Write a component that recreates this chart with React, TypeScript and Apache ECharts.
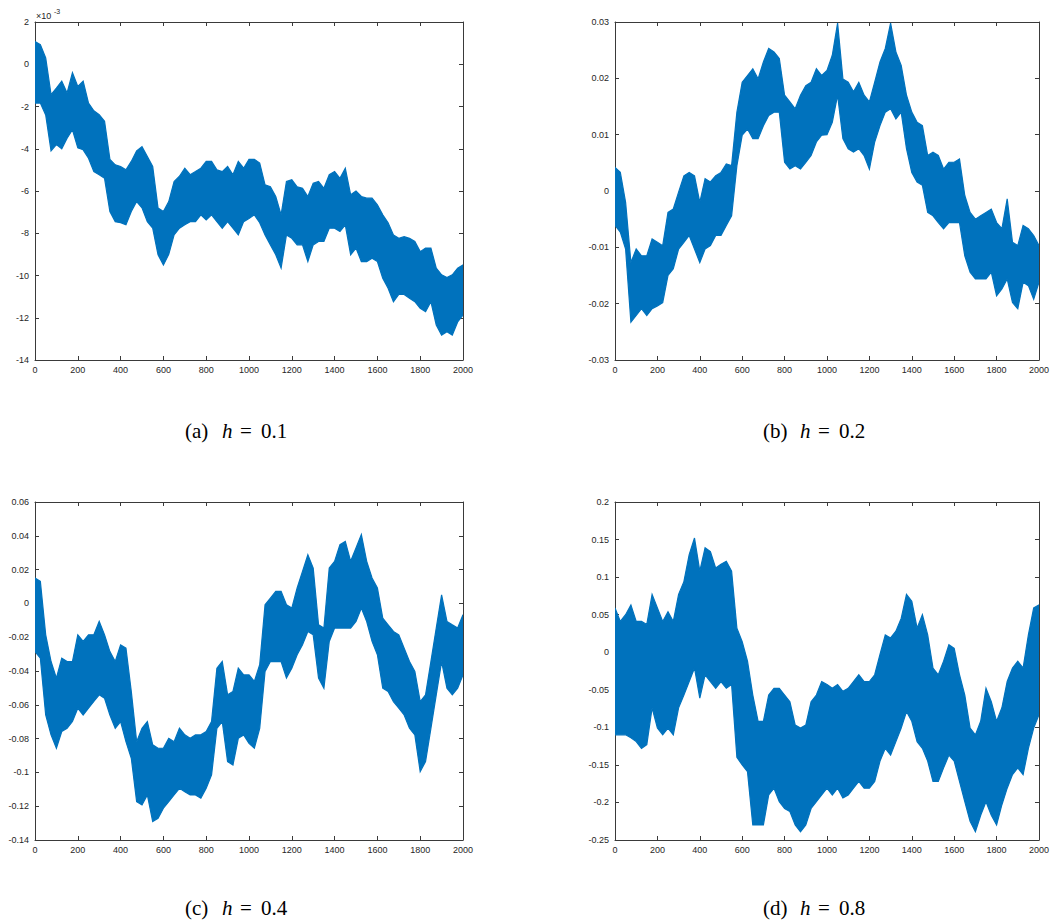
import React, { useEffect, useRef } from "react";
import * as echarts from "echarts";

// Sample positions along the horizontal axis (iteration index)
const sampleX = [
  0, 25, 50, 75, 100, 125, 150, 175, 200, 225,
  250, 275, 300, 325, 350, 375, 400, 425, 450, 475,
  500, 525, 550, 575, 600, 625, 650, 675, 700, 725,
  750, 775, 800, 825, 850, 875, 900, 925, 950, 975,
  1000, 1025, 1050, 1075, 1100, 1125, 1150, 1175, 1200, 1225,
  1250, 1275, 1300, 1325, 1350, 1375, 1400, 1425, 1450, 1475,
  1500, 1525, 1550, 1575, 1600, 1625, 1650, 1675, 1700, 1725,
  1750, 1775, 1800, 1825, 1850, 1875, 1900, 1925, 1950, 1975,
  2000,
];

const xTicks = [0, 200, 400, 600, 800, 1000, 1200, 1400, 1600, 1800, 2000];

// (a) h = 0.1 — values in units of 1e-3 (as on the axis)
const aHi = [
  1.08, 0.93, 0.3, -1.44, -1.13, -0.8, -1.36, -0.4, -1.05, -0.8,
  -1.84, -2.2, -2.39, -2.7, -4.5, -4.76, -4.84, -5.0, -4.6, -4.1,
  -3.9, -4.37, -4.84, -6.81, -6.97, -6.5, -5.55, -5.3, -4.92, -5.23,
  -5.08, -4.92, -4.6, -4.6, -5.0, -5.08, -4.84, -5.23, -4.6, -4.92,
  -4.5, -4.5, -4.68, -5.71, -5.8, -6.26, -7.13, -5.55, -5.47, -5.8,
  -5.87, -6.26, -5.63, -5.55, -5.87, -5.23, -5.08, -5.4, -4.92, -6.18,
  -6.0, -6.26, -6.34, -6.34, -6.66, -7.13, -7.5, -8.08, -8.24, -8.16,
  -8.24, -8.39, -8.87, -8.7, -8.7, -9.65, -9.97, -10.1, -9.97, -9.65,
  -9.5,
];
const aLo = [
  -1.84, -1.84, -2.4, -4.1, -3.8, -4.0, -3.5, -3.1, -3.96, -4.05,
  -4.45, -5.08, -5.23, -5.4, -6.97, -7.45, -7.5, -7.6, -6.97, -6.5,
  -6.8, -7.45, -7.76, -9.02, -9.5, -9.0, -8.08, -7.76, -7.6, -7.45,
  -7.45, -7.13, -7.37, -7.13, -7.45, -7.76, -7.45, -7.76, -8.08, -7.45,
  -7.3, -7.13, -7.5, -8.08, -8.55, -9.02, -9.65, -8.08, -8.24, -8.55,
  -8.55, -9.34, -8.55, -8.39, -8.39, -7.76, -7.76, -7.92, -7.6, -9.02,
  -8.7, -9.34, -9.34, -9.18, -9.34, -10.13, -10.6, -11.24, -10.9, -10.9,
  -11.08, -11.24, -11.55, -11.71, -11.24, -12.34, -12.82, -12.66, -12.82, -12.2,
  -11.87,
];

// (b) h = 0.2
const bHi = [
  0.0042, 0.0033, -0.002, -0.0127, -0.0103, -0.0115, -0.0115, -0.0085, -0.0091, -0.0097,
  -0.0038, -0.0032, -0.0002, 0.0027, 0.0033, 0.0027, -0.002, 0.0022, 0.0016, 0.0027,
  0.0033, 0.0048, 0.0045, 0.014, 0.0193, 0.0205, 0.0217, 0.0199, 0.0229, 0.0253,
  0.0247, 0.0235, 0.017, 0.0158, 0.0146, 0.017, 0.0187, 0.0193, 0.0217, 0.0205,
  0.0214, 0.0241, 0.0298, 0.0199, 0.0193, 0.0176, 0.0193, 0.017, 0.0158, 0.0193,
  0.0229, 0.0253, 0.0298, 0.0247, 0.0223, 0.017, 0.014, 0.0122, 0.0116, 0.0063,
  0.0069, 0.0063, 0.0039, 0.0051, 0.0051, 0.0057, -0.0008, -0.0038, -0.005, -0.0044,
  -0.0038, -0.0032, -0.0056, -0.0067, -0.0014, -0.0091, -0.0097, -0.0061, -0.0067, -0.0079,
  -0.0097,
];
const bLo = [
  -0.0061, -0.0073, -0.0103, -0.0233, -0.0221, -0.0209, -0.0221, -0.0209, -0.0204, -0.0198,
  -0.015, -0.0138, -0.0103, -0.0091, -0.0079, -0.0103, -0.0127, -0.0103, -0.0097, -0.0079,
  -0.0079, -0.0061, -0.0044, 0.0045, 0.0099, 0.011, 0.0093, 0.0093, 0.0116, 0.0134,
  0.014, 0.014, 0.0051, 0.0039, 0.0045, 0.0039, 0.0051, 0.0063, 0.0087, 0.0099,
  0.01, 0.0122, 0.017, 0.0093, 0.0075, 0.0069, 0.0075, 0.0063, 0.0039, 0.0087,
  0.0116, 0.014, 0.0146, 0.0128, 0.014, 0.0075, 0.0033, 0.0016, 0.001, -0.0038,
  -0.0044, -0.0056, -0.0067, -0.0056, -0.0056, -0.0056, -0.0115, -0.0144, -0.0156, -0.0156,
  -0.0156, -0.0144, -0.0186, -0.0174, -0.0156, -0.0198, -0.0209, -0.0162, -0.0168, -0.0192,
  -0.0162,
];

// (c) h = 0.4
const cHi = [
  0.015, 0.013, -0.0186, -0.0344, -0.0442, -0.0324, -0.0344, -0.0344, -0.0186, -0.0225,
  -0.0186, -0.0186, -0.0107, -0.0186, -0.0285, -0.0344, -0.0245, -0.0265, -0.0521, -0.0818,
  -0.0739, -0.0699, -0.0837, -0.0857, -0.0857, -0.0798, -0.0818, -0.0739, -0.0778, -0.0798,
  -0.0778, -0.0778, -0.0758, -0.0699, -0.0383, -0.0344, -0.0541, -0.0521, -0.0383, -0.0423,
  -0.0423, -0.0462, -0.0363, -0.0008, 0.0031, 0.0071, 0.0071, -0.0008, -0.0028, 0.0091,
  0.0189, 0.0288, 0.0209, -0.0127, -0.0146, 0.0209, 0.0249, 0.0347, 0.0367, 0.0249,
  0.0328, 0.0407, 0.0249, 0.015, 0.0091, -0.0087, -0.0127, -0.0166, -0.0186, -0.0265,
  -0.0344, -0.0403, -0.0581, -0.0541, -0.0344, -0.0146, 0.0051, -0.0107, -0.0127, -0.0146,
  -0.0067,
];
const cLo = [
  -0.0285, -0.0324, -0.066, -0.0778, -0.0857, -0.0758, -0.0739, -0.0699, -0.062, -0.066,
  -0.062, -0.058, -0.0541, -0.0561, -0.066, -0.0739, -0.0699, -0.0818, -0.0916, -0.1173,
  -0.1193, -0.1133, -0.1291, -0.1272, -0.1212, -0.1173, -0.1133, -0.1094, -0.1114, -0.1133,
  -0.1133, -0.1153, -0.1094, -0.1015, -0.0739, -0.0699, -0.0936, -0.0956, -0.0798, -0.0778,
  -0.0828, -0.0857, -0.0739, -0.0403, -0.0344, -0.0344, -0.0344, -0.0442, -0.0383, -0.0304,
  -0.0245, -0.0166, -0.0186, -0.0442, -0.0502, -0.0225, -0.0146, -0.0146, -0.0146, -0.0146,
  -0.0107, -0.0028, -0.0107, -0.0225, -0.0304, -0.0502, -0.0521, -0.0581, -0.062, -0.066,
  -0.0739, -0.0778, -0.0995, -0.0936, -0.0739, -0.0541, -0.0344, -0.0502, -0.0541, -0.0502,
  -0.0423,
];

// (d) h = 0.8
const dHi = [
  0.059, 0.041, 0.05, 0.063, 0.041, 0.041, 0.037, 0.077, 0.059, 0.041,
  0.054, 0.041, 0.077, 0.094, 0.13, 0.152, 0.108, 0.139, 0.134, 0.112,
  0.117, 0.121, 0.108, 0.032, 0.014, -0.012, -0.057, -0.092, -0.092, -0.057,
  -0.048, -0.048, -0.057, -0.066, -0.097, -0.101, -0.097, -0.066, -0.057, -0.039,
  -0.043, -0.048, -0.043, -0.052, -0.048, -0.039, -0.03, -0.039, -0.039, -0.03,
  -0.003, 0.023, 0.019, 0.028, 0.045, 0.077, 0.068, 0.032, 0.05, 0.023,
  -0.021, -0.03, -0.012, 0.01, 0.005, -0.03, -0.057, -0.101, -0.11, -0.092,
  -0.048, -0.066, -0.092, -0.074, -0.039, -0.021, -0.012, -0.021, 0.023, 0.059,
  0.063,
];
const dLo = [
  -0.11, -0.11, -0.11, -0.114, -0.119, -0.128, -0.123, -0.074, -0.101, -0.11,
  -0.101, -0.11, -0.074, -0.057, -0.039, -0.021, -0.061, -0.03, -0.039, -0.048,
  -0.039, -0.048, -0.043, -0.14, -0.15, -0.159, -0.23, -0.23, -0.23, -0.19,
  -0.181, -0.199, -0.208, -0.212, -0.23, -0.239, -0.23, -0.208, -0.199, -0.19,
  -0.181, -0.19, -0.181, -0.194, -0.19, -0.181, -0.172, -0.181, -0.181, -0.172,
  -0.145, -0.128, -0.137, -0.119, -0.101, -0.079, -0.092, -0.119, -0.128, -0.145,
  -0.172, -0.172, -0.154, -0.137, -0.145, -0.172, -0.199, -0.225, -0.239, -0.217,
  -0.199, -0.217, -0.23, -0.203, -0.181, -0.163, -0.154, -0.163, -0.128, -0.101,
  -0.083,
];

// y-axis ranges per panel: [min, max, interval]
const yRanges = [
  [-14, 2, 2],
  [-0.03, 0.03, 0.01],
  [-0.14, 0.06, 0.02],
  [-0.25, 0.2, 0.05],
];

const captionLetters = ["(a)", "(b)", "(c)", "(d)"];
const captionValues = ["0.1", "0.2", "0.4", "0.8"];

const COLOR = "#0072BD";
const AXIS = "#3a3a3a";
const LABEL = "#262626";
const SANS = '"Liberation Sans", Arial, Helvetica, sans-serif';
const SERIF = '"Liberation Serif", "Times New Roman", serif';

const grids = [
  { left: 35, top: 22, width: 428, height: 338 },
  { left: 615, top: 22, width: 427, height: 338 },
  { left: 35, top: 502, width: 428, height: 338 },
  { left: 615, top: 502, width: 427, height: 338 },
];

function fmt(v: number) {
  const r = Math.round(v * 1000) / 1000;
  return String(r === 0 ? 0 : r);
}

function buildOption() {
  const xAxis: any[] = [];
  const yAxis: any[] = [];
  const series: any[] = [];
  const bands = [
    [aLo, aHi],
    [bLo, bHi],
    [cLo, cHi],
    [dLo, dHi],
  ];
  grids.forEach((_, gi) => {
    const common = {
      gridIndex: gi,
      type: "value",
      splitLine: { show: false },
      axisLine: { show: true, onZero: false, lineStyle: { color: AXIS, width: 1 } },
      axisTick: { show: true, inside: true, length: 4, lineStyle: { color: AXIS, width: 1 } },
    };
    const xc = { ...common, min: xTicks[0], max: xTicks[xTicks.length - 1], interval: xTicks[1] - xTicks[0] };
    xAxis.push({
      ...xc,
      position: "bottom",
      axisLabel: {
        show: true,
        fontSize: 9,
        color: LABEL,
        margin: 5,
        fontFamily: SANS,
        formatter: (v: number) => String(v),
      },
    });
    xAxis.push({ ...xc, position: "top", axisLabel: { show: false } });
    const [mn, mx, iv] = yRanges[gi];
    const yc = { ...common, min: mn, max: mx, interval: iv };
    yAxis.push({
      ...yc,
      position: "left",
      axisLabel: { show: true, fontSize: 9, color: LABEL, margin: 6, fontFamily: SANS, formatter: fmt },
    });
    yAxis.push({ ...yc, position: "right", axisLabel: { show: false } });

    const [lo, hi] = bands[gi];
    series.push({
      type: "custom",
      xAxisIndex: gi * 2,
      yAxisIndex: gi * 2,
      silent: true,
      clip: true,
      data: sampleX.map((x, i) => [x, lo[i], hi[i]]),
      encode: { x: 0, y: [1, 2] },
      renderItem: (params: any, api: any) => {
        if (params.dataIndex !== 0) return null;
        const upper = sampleX.map((x, i) => api.coord([x, hi[i]]));
        const lower = sampleX.map((x, i) => api.coord([x, lo[i]])).reverse();
        return {
          type: "polygon",
          shape: { points: upper.concat(lower) },
          style: { fill: COLOR, stroke: COLOR, lineWidth: 1.2, lineJoin: "miter" },
        };
      },
    });
  });

  const graphic: any[] = [
    {
      type: "text",
      x: 36,
      y: 15.5,
      style: { text: "×10", font: `9px ${SANS}`, fill: LABEL, textAlign: "left", textVerticalAlign: "middle" },
    },
    {
      type: "text",
      x: 54,
      y: 11,
      style: { text: "-3", font: `7px ${SANS}`, fill: LABEL, textAlign: "left", textVerticalAlign: "middle" },
    },
  ];
  const capPos = [
    [0, 431],
    [578, 431],
    [0, 908],
    [578, 908],
  ];
  capPos.forEach(([dx, cy], i) => {
    const t = (text: string, x: number, font: string, align = "left") => ({
      type: "text",
      x: x + dx,
      y: cy,
      style: { text, font, fill: "#000", textAlign: align, textVerticalAlign: "middle" },
    });
    graphic.push(t(captionLetters[i], 185, `21px ${SERIF}`));
    graphic.push(t("h", 222, `italic 21px ${SERIF}`));
    graphic.push(t("=", 245.8, `21px ${SERIF}`, "center"));
    graphic.push(t(captionValues[i], 261, `21px ${SERIF}`));
  });

  return {
    animation: false,
    backgroundColor: "#ffffff",
    grid: grids.map((g) => ({ ...g, containLabel: false })),
    xAxis,
    yAxis,
    series,
    graphic,
  };
}

export default function App() {
  const ref = useRef<HTMLDivElement>(null);
  useEffect(() => {
    if (!ref.current) return;
    const chart = echarts.init(ref.current, undefined, { renderer: "svg" });
    chart.setOption(buildOption() as any);
    return () => chart.dispose();
  }, []);
  return (
    <div
      ref={ref}
      style={{ position: "fixed", left: 0, top: 0, width: 1052, height: 924, background: "#fff" }}
    />
  );
}
